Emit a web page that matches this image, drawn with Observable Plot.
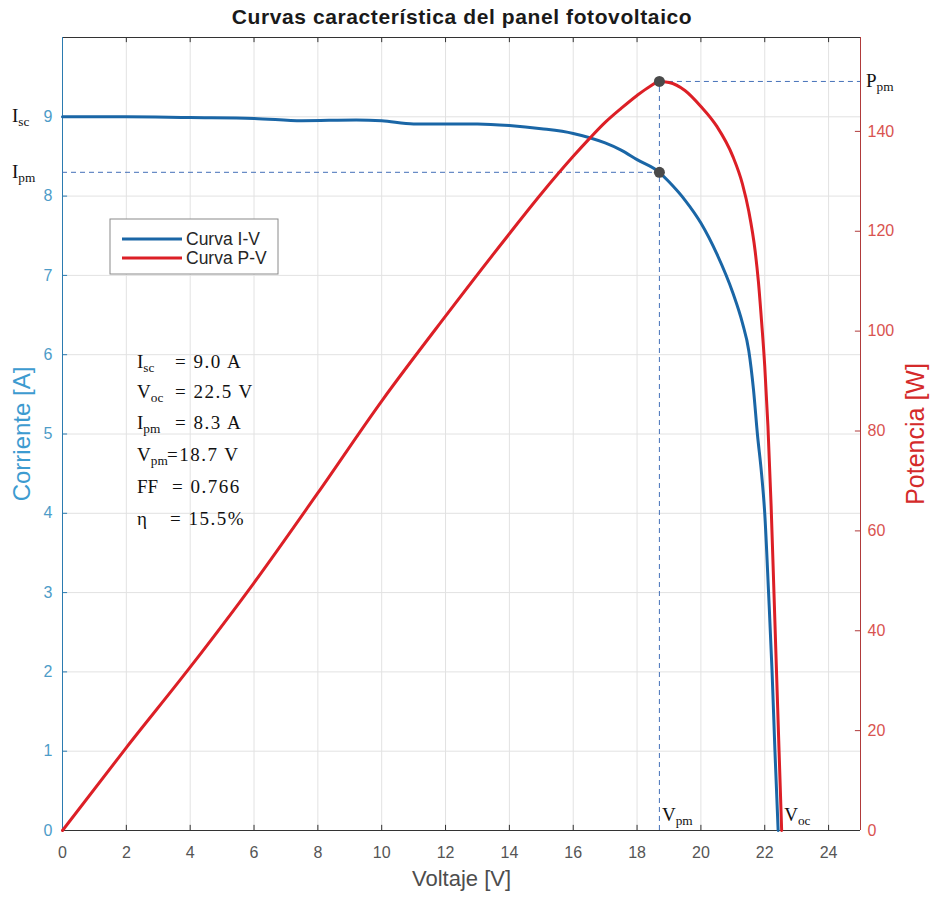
<!DOCTYPE html>
<html><head><meta charset="utf-8">
<script src="https://cdn.jsdelivr.net/npm/d3@7"></script>
<script src="https://cdn.jsdelivr.net/npm/@observablehq/plot@0.6"></script>
<style>
body{margin:0;background:#fff;}
#wrap{width:933px;height:898px;background:#fff;overflow:hidden;}
#title{width:924px;height:27px;padding-top:5px;line-height:27px;text-align:center;font:bold 21px "Liberation Sans",Arial,sans-serif;letter-spacing:0.6px;color:#1a1a1a;}
</style></head><body><div id="wrap"><div id="title">Curvas característica del panel fotovoltaico</div><div id="chart"></div></div>
<script>
// I-V curve (Voltaje [V] -> Corriente [A])
const voltageIV = [0, 2, 4, 6, 7.5, 9.2, 10, 11, 13, 14, 15, 16, 17, 17.5, 18, 18.7, 19, 19.5, 20, 20.5, 21, 21.3, 21.5, 21.65, 21.77, 21.9, 22.0, 22.12, 22.23, 22.32, 22.42];
const currentIV = [9.00, 9.00, 8.99, 8.98, 8.95, 8.96, 8.95, 8.91, 8.91, 8.89, 8.85, 8.79, 8.67, 8.58, 8.46, 8.30, 8.18, 7.95, 7.66, 7.27, 6.78, 6.40, 6.05, 5.55, 5.00, 4.50, 4.00, 3.00, 2.00, 1.00, 0];
// P-V curve (Voltaje [V] -> Potencia [W])
const voltagePV = [0, 2, 4, 6, 8, 10, 12, 14, 15, 16, 16.5, 17, 17.5, 18, 18.4, 18.7, 19.0, 19.5, 20, 20.5, 21, 21.3, 21.5, 21.7, 21.8, 21.9, 22.0, 22.1, 22.2, 22.29, 22.37, 22.45, 22.53];
const powerPV = [0, 16.6, 32.7, 49.6, 67.6, 86, 103, 119.5, 127.5, 135, 138.5, 141.8, 144.6, 147.2, 149, 150, 149.8, 148.2, 145, 141, 135, 129.5, 124, 116, 110, 102, 93, 81, 65, 47.4, 31.6, 15.7, 0];
// Ticks
const xTicks = [0, 2, 4, 6, 8, 10, 12, 14, 16, 18, 20, 22, 24];
const currentTicks = [0, 1, 2, 3, 4, 5, 6, 7, 8, 9];
const powerTicks = [0, 20, 40, 60, 80, 100, 120, 140];
// Key points
const Vpm = 18.7, Ipm = 8.3, Ppm = 150, Isc = 9.0, Voc = 22.5;
// Texts
const legendLabels = ["Curva I-V", "Curva P-V"];
const statNames = ["I", "V", "I", "V", "FF", "η"];
const statSubs = ["sc", "oc", "pm", "pm", "", ""];
const statValues = ["= 9.0 A", "= 22.5 V", "= 8.3 A", "=18.7 V", "= 0.766", "= 15.5%"];

const xMax = 25, iMax = 10, pMax = 158.8;
const k = iMax / pMax; // power -> current-axis units
const BLUE = "#1a66a6", RED = "#dc1f26", GUIDE = "#4470b8";
const TOP = 32; // height of the title block above the SVG

const iv = voltageIV.map((v, j) => ({v, y: currentIV[j]}));
const pv = voltagePV.map((v, j) => ({v, y: powerPV[j] * k}));
const NS = "http://www.w3.org/2000/svg";
const SERIF = '"Liberation Serif","Times New Roman",serif';

function el(name, attrs, parent) {
  const e = document.createElementNS(NS, name);
  for (const a in attrs) e.setAttribute(a, attrs[a]);
  if (parent) parent.appendChild(e);
  return e;
}
function subText(g, x, y, main, sub, size) {
  const t = el("text", {x, y, "font-family": SERIF, "font-size": size, fill: "#111", "text-anchor": "start"}, g);
  const a = el("tspan", {}, t); a.textContent = main;
  if (sub) { const b = el("tspan", {"font-size": size * 0.7, dy: size * 0.2}, t); b.textContent = sub; }
  return t;
}

function annotations(index, scales, values, dims) {
  const X = typeof scales.x === "function" ? scales.x : d3.scaleLinear([0, xMax], [dims.marginLeft, dims.width - dims.marginRight]);
  const Y = typeof scales.y === "function" ? scales.y : d3.scaleLinear([0, iMax], [dims.height - dims.marginBottom, dims.marginTop]);
  const g = el("g", {"text-anchor": "start"});
  // labels of key points
  subText(g, 12, Y(Isc) + 6, "I", "sc", 19);
  subText(g, 12, Y(Ipm) + 6, "I", "pm", 19);
  subText(g, X(Vpm) + 3, Y(0) - 9, "V", "pm", 19);
  subText(g, X(Voc) + 4, Y(0) - 9, "V", "oc", 19);
  subText(g, dims.width - dims.marginRight + 6, Y(Ppm * k) + 6, "P", "pm", 19);
  // stats block
  const baseY = [368, 398, 429, 461, 493, 525];
  const valX = [175, 175, 175, 167, 172, 170];
  statNames.forEach((n, j) => {
    subText(g, 137, baseY[j] - TOP, n, statSubs[j], 19);
    const t = el("text", {x: valX[j], y: baseY[j] - TOP, "font-family": SERIF, "font-size": 19, "letter-spacing": 1.5, fill: "#111", "text-anchor": "start"}, g);
    t.textContent = statValues[j];
  });
  // legend
  const lg = el("g", {}, g);
  el("rect", {x: 110, y: 219 - TOP, width: 168, height: 55, fill: "white", stroke: "#8a8a8a", "stroke-width": 1}, lg);
  [BLUE, RED].forEach((c, j) => {
    const yy = 239 - TOP + j * 19;
    el("line", {x1: 122, x2: 182, y1: yy, y2: yy, stroke: c, "stroke-width": 3}, lg);
    const t = el("text", {x: 186, y: yy + 6, "font-family": '"Liberation Sans",Arial,sans-serif', "font-size": 17.5, fill: "#262626", "text-anchor": "start"}, lg);
    t.textContent = legendLabels[j];
  });
  return g;
}

const chart = Plot.plot({
  width: 933, height: 866,
  marginTop: 5, marginBottom: 68, marginLeft: 62, marginRight: 73,
  style: {fontFamily: '"Liberation Sans", Arial, sans-serif', background: "white", overflow: "visible"},
  x: {domain: [0, xMax]},
  y: {domain: [0, iMax]},
  marks: [
    Plot.gridX(xTicks.slice(1), {stroke: "#e2e2e2", strokeOpacity: 1}),
    Plot.gridY(currentTicks.slice(1), {stroke: "#e2e2e2", strokeOpacity: 1}),
    Plot.axisX(xTicks, {tickSize: 0, tickPadding: 16, fontSize: 16, fill: "#555", tickFormat: d => String(d), label: null}),
    Plot.axisY(currentTicks, {anchor: "left", tickSize: 0, tickPadding: 10, fontSize: 16, fill: "#4d9cc8", tickFormat: d => String(d), label: null}),
    Plot.axisY(powerTicks.map(p => p * k), {anchor: "right", tickSize: 0, tickPadding: 7, fontSize: 16, fill: "#d9534f", tickFormat: d => String(Math.round(d / k)), label: null}),
    Plot.ruleX(xTicks, {y1: 0, y2: 0.065, stroke: "#333"}),
    Plot.ruleX(xTicks, {y1: iMax, y2: iMax - 0.065, stroke: "#333"}),
    Plot.ruleY(currentTicks, {x1: 0, x2: 0.16, stroke: "#2b7bb0"}),
    Plot.ruleY(powerTicks.map(p => p * k), {x1: xMax, x2: xMax - 0.16, stroke: "#b03a3a"}),
    Plot.ruleY([0, iMax], {stroke: "#333"}),
    Plot.ruleX([0], {stroke: "#2b7bb0"}),
    Plot.ruleX([xMax], {stroke: "#b03a3a"}),
    Plot.ruleY([Ipm], {x1: 0, x2: Vpm, stroke: GUIDE, strokeDasharray: "5,4"}),
    Plot.ruleX([Vpm], {y1: 0, y2: Ppm * k, stroke: GUIDE, strokeDasharray: "5,4"}),
    Plot.ruleY([Ppm * k], {x1: Vpm, x2: xMax, stroke: GUIDE, strokeDasharray: "5,4"}),
    Plot.line(iv, {x: "v", y: "y", stroke: BLUE, strokeWidth: 3, curve: "monotone-x"}),
    Plot.line(pv, {x: "v", y: "y", stroke: RED, strokeWidth: 3, curve: "monotone-x"}),
    Plot.dot([{v: Vpm, y: Ipm}, {v: Vpm, y: Ppm * k}], {x: "v", y: "y", r: 5.5, fill: "#4a4a4a", stroke: "none"}),
    Plot.text(["Voltaje [V]"], {text: d => d, frameAnchor: "bottom", textAnchor: "middle", dy: 55, fontSize: 22, fill: "#4d4d4d"}),
    Plot.text(["Corriente [A]"], {text: d => d, frameAnchor: "left", textAnchor: "middle", dx: -40, rotate: -90, fontSize: 24, fill: "#3d9bd0"}),
    Plot.text(["Potencia [W]"], {text: d => d, frameAnchor: "right", textAnchor: "middle", dx: 55, rotate: -90, fontSize: 25, fill: "#d42a2a"}),
    annotations
  ]
});
document.getElementById("chart").appendChild(chart);
</script>
</body></html>
